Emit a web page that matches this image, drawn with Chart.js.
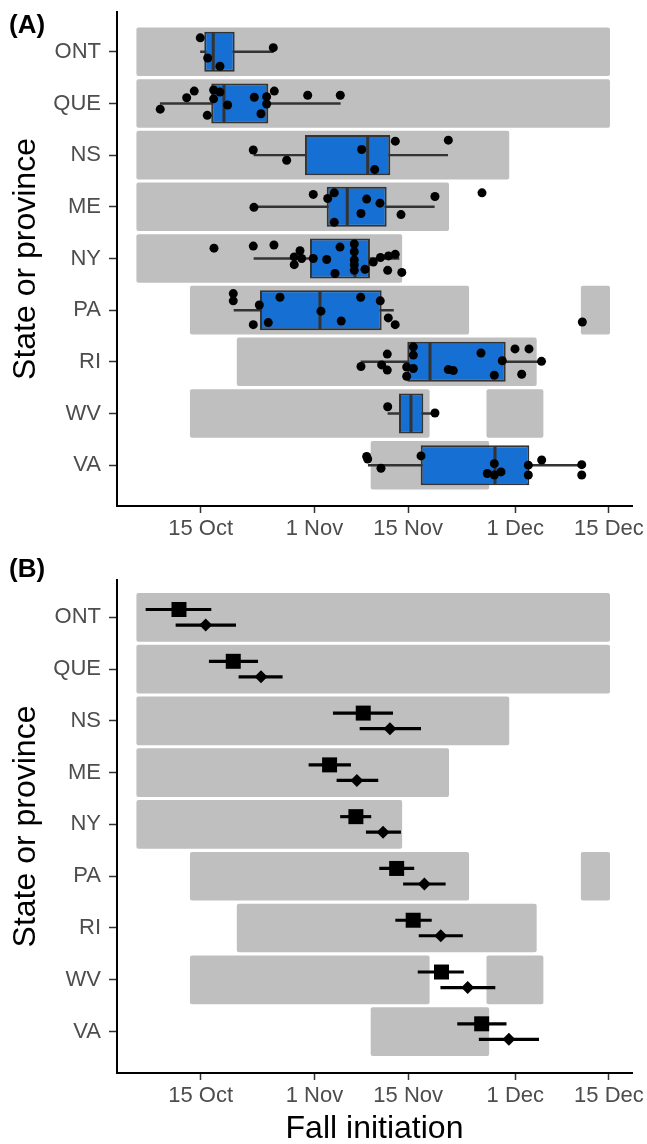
<!DOCTYPE html>
<html>
<head>
<meta charset="utf-8">
<script src="https://cdn.jsdelivr.net/npm/chart.js@4.4.0/dist/chart.umd.min.js"></script>
<style>
  html, body { margin: 0; padding: 0; background: #fff; }
  #wrap { position: relative; width: 647px; height: 1144px; overflow: hidden; }
  canvas { position: absolute; left: 0; }
  .tag { position: absolute; left: 9px; font: bold 26px "Liberation Sans", Arial, sans-serif; line-height: 26px; color: #000; }
</style>
</head>
<body>
<div id="wrap">
  <canvas id="chartA" width="647" height="560" style="top:0px"></canvas>
  <canvas id="chartB" width="647" height="584" style="top:560px"></canvas>
  <div class="tag" style="top:11px">(A)</div>
  <div class="tag" style="top:555px">(B)</div>
</div>
<script>
// dias contados desde el 1 de octubre
const provinces = ['ONT', 'QUE', 'NS', 'ME', 'NY', 'PA', 'RI', 'WV', 'VA'];
const tickDays = [14, 31, 45, 61, 75];
const tickLabels = ['15 Oct', '1 Nov', '15 Nov', '1 Dec', '15 Dec'];

// rangos grises (periodo observado)
const rangeStart = [4.4, 4.4, 4.4, 4.4, 4.4, 12.4, 19.4, 12.4, 39.4];
const rangeEnd = [75.15, 75.15, 60.1, 51.1, 44.1, 54.1, 64.2, 48.2, 57.1];
const extraStart = [null, null, null, null, null, 70.8, null, 56.7, null];
const extraEnd = [null, null, null, null, null, 75.15, null, 65.2, null];

// cajas (A)
const q1 = [14.54, 15.58, 29.58, 32.83, 30.33, 22.86, 44.87, 43.63, 46.87];
const median = [15.88, 17.48, 38.95, 35.9, 37.05, 31.82, 48.26, 45.42, 57.97];
const q3 = [19.08, 24.1, 42.33, 41.79, 39.29, 41.04, 59.57, 47.26, 63.1];
const whiskerLo = [13.97, 7.96, 21.96, 21.96, 21.96, 18.98, 37.95, 41.98, 39.04];
const whiskerHi = [24.85, 34.86, 50.9, 48.9, 43.63, 42.8, 64.84, 49.0, 71.02];

// puntos individuales (A)
const pointDays = [
  [13.94, 15.05, 16.88, 24.85],
  [7.96, 11.91, 13.04, 14.99, 15.94, 15.94, 16.88, 18.03, 22.01, 23.01, 23.86, 23.86, 25.0, 29.99, 34.86],
  [21.86, 26.85, 38.05, 40.0, 43.08, 51.0],
  [21.96, 30.82, 32.98, 33.96, 33.96, 37.95, 38.8, 40.79, 43.93, 49.0, 56.03],
  [15.99, 21.86, 24.95, 27.98, 27.98, 28.84, 29.09, 30.82, 32.83, 34.07, 34.82, 36.95, 36.95, 36.95, 36.95, 36.95, 38.55, 39.79, 40.86, 42.06, 43.07, 41.94, 44.05],
  [18.87, 18.87, 22.76, 25.85, 21.86, 24.1, 31.97, 35.0, 37.91, 40.83, 42.03, 43.06, 71.02],
  [37.95, 41.04, 41.88, 41.88, 44.78, 44.78, 45.77, 45.77, 45.77, 50.99, 51.74, 55.88, 57.87, 59.06, 60.96, 63.05, 61.96, 64.92],
  [41.94, 49.0],
  [38.8, 38.95, 40.94, 46.92, 57.87, 56.82, 57.87, 58.87, 62.95, 62.95, 64.95, 70.93, 70.93]
];
const pointJitter = [
  [-0.27, 0.12, 0.28, -0.08],
  [0.11, -0.11, -0.24, 0.23, -0.26, -0.09, -0.22, 0.03, -0.12, 0.2, -0.13, 0.01, -0.24, -0.16, -0.16],
  [-0.1, 0.1, -0.11, 0.28, -0.27, -0.29],
  [0.01, -0.24, -0.16, -0.27, 0.3, 0.13, -0.15, -0.07, 0.15, -0.2, -0.27],
  [-0.2, -0.24, -0.26, -0.03, 0.12, -0.15, 0, 0, 0.02, 0.29, -0.22, -0.28, -0.13, 0.03, 0.12, 0.23, 0.21, 0.07, -0.02, -0.05, -0.08, 0.23, 0.27],
  [-0.32, -0.18, -0.1, -0.25, 0.28, 0.24, 0.02, 0.21, -0.25, -0.18, 0.15, 0.28, 0.23],
  [0.09, 0.06, 0.16, -0.15, 0.1, 0.28, 0.13, -0.29, -0.13, 0.15, 0.17, -0.17, 0.26, -0.02, -0.25, -0.25, 0.24, -0.01],
  [-0.13, -0.01],
  [-0.17, -0.12, 0.06, -0.18, -0.03, 0.16, 0.19, 0.13, 0, 0.19, -0.1, -0.01, 0.19]
];

// estimaciones (B): cuadrados y rombos con intervalos
const fitSquare = [10.76, 18.87, 38.29, 33.26, 37.19, 43.28, 45.75, 49.98, 55.98];
const fitSquareLo = [5.83, 15.28, 33.81, 30.18, 34.89, 40.73, 43.13, 46.48, 52.38];
const fitSquareHi = [15.54, 22.52, 42.69, 36.4, 39.43, 45.85, 48.47, 53.27, 59.64];
const fitDiamond = [14.75, 23.01, 42.28, 37.34, 41.25, 47.42, 49.87, 53.89, 60.05];
const fitDiamondLo = [10.31, 19.72, 37.8, 34.36, 38.74, 44.29, 46.63, 49.87, 55.61];
const fitDiamondHi = [19.23, 26.19, 46.87, 40.48, 43.87, 50.55, 53.12, 57.97, 64.5];
const dodge = 0.15;

const FONT = "'Liberation Sans', Arial, sans-serif";
const xMin = 1.5, xMax = 78.44;

function grayData() {
  return provinces.map((p, i) => ({x: [rangeStart[i], rangeEnd[i]], y: i}));
}
function grayExtra() {
  return provinces.map((p, i) => extraStart[i] == null ? null : {x: [extraStart[i], extraEnd[i]], y: i})
    .filter(Boolean);
}

function makeScales(cfg) {
  const scales = {
    x: {
      type: 'linear', min: xMin, max: xMax, offset: false,
      afterBuildTicks: s => { s.ticks = tickDays.map(v => ({value: v})); },
      afterFit: s => { s.height = cfg.xHeight; s.paddingLeft = 0; s.paddingRight = 0; },
      ticks: {
        callback: v => tickLabels[tickDays.indexOf(v)],
        color: '#4d4d4d', font: {family: FONT, size: 22}, padding: 3,
        maxRotation: 0, autoSkip: false
      },
      grid: {offset: false, drawOnChartArea: false, tickLength: 7, tickColor: '#333', tickWidth: 1.5},
      border: {color: '#000', width: 2},
      title: {
        display: cfg.xTitle, text: 'Fall initiation', color: '#000',
        font: {family: FONT, size: 32, lineHeight: 0.9}, padding: {top: 0, bottom: 0}
      }
    },
    y: {
      type: 'linear', reverse: true, min: cfg.yMin, max: cfg.yMax, offset: false,
      afterBuildTicks: s => { s.ticks = provinces.map((p, i) => ({value: i})); },
      afterFit: s => { s.width = 117; s.paddingTop = 0; s.paddingBottom = 0; },
      ticks: {
        callback: v => provinces[v],
        color: '#4d4d4d', font: {family: FONT, size: 22}, padding: 8, autoSkip: false
      },
      grid: {offset: false, drawOnChartArea: false, tickLength: 8, tickColor: '#333', tickWidth: 1.5},
      border: {color: '#000', width: 2},
      title: {
        display: true, text: 'State or province', color: '#000',
        font: {family: FONT, size: 32}, padding: {top: 7, bottom: 0}
      }
    }
  };
  if (cfg.y2) {
    scales.y2 = {type: 'linear', display: false, reverse: true, min: cfg.yMin, max: cfg.yMax,
      offset: false, grid: {offset: false}};
  }
  return scales;
}

const barBase = {type: 'bar', indexAxis: 'y', grouped: false, categoryPercentage: 1, borderSkipped: false};

// ---- panel A ----
const jittered = [];
pointDays.forEach((days, i) => days.forEach((d, k) => jittered.push({x: d, y: i + pointJitter[i][k]})));

new Chart(document.getElementById('chartA'), {
  type: 'bar',
  data: {
    datasets: [
      Object.assign({}, barBase, {
        label: 'rango', order: 6, data: grayData(),
        backgroundColor: '#bfbfbf', barPercentage: 0.94, borderRadius: 2
      }),
      Object.assign({}, barBase, {
        label: 'rango2', order: 5, data: grayExtra(),
        backgroundColor: '#bfbfbf', barPercentage: 0.94, borderRadius: 2
      }),
      Object.assign({}, barBase, {
        label: 'bigotes', order: 4,
        data: provinces.map((p, i) => ({x: [whiskerLo[i], whiskerHi[i]], y: i})),
        backgroundColor: '#333333', barPercentage: 1, maxBarThickness: 1.8
      }),
      Object.assign({}, barBase, {
        label: 'cajas', order: 3,
        data: provinces.map((p, i) => ({x: [q1[i], q3[i]], y: i})),
        backgroundColor: '#166fd3', borderColor: '#333333', borderWidth: 2, barPercentage: 0.775
      }),
      {
        type: 'scatter', label: 'mediana', order: 2,
        data: provinces.map((p, i) => ({x: median[i], y: i})),
        pointStyle: 'line', pointRotation: 90, pointRadius: 19, pointHoverRadius: 19,
        pointBorderColor: '#333333', pointBorderWidth: 3
      },
      {
        type: 'scatter', label: 'puntos', order: 1, data: jittered,
        pointRadius: 4.5, pointHoverRadius: 4.5, pointBackgroundColor: '#000',
        pointBorderWidth: 0
      }
    ]
  },
  options: {
    indexAxis: 'y',
    responsive: false, animation: false,
    layout: {autoPadding: false, padding: {top: 12, right: 15, bottom: 0, left: 0}},
    plugins: {legend: {display: false}, tooltip: {enabled: false}},
    scales: makeScales({xHeight: 54, xTitle: false, yMin: -0.77, yMax: 8.79, y2: false})
  }
});

// ---- panel B ----
new Chart(document.getElementById('chartB'), {
  type: 'bar',
  data: {
    datasets: [
      Object.assign({}, barBase, {
        label: 'rango', order: 6, data: grayData(),
        backgroundColor: '#bfbfbf', barPercentage: 0.94, borderRadius: 2
      }),
      Object.assign({}, barBase, {
        label: 'rango2', order: 5, data: grayExtra(),
        backgroundColor: '#bfbfbf', barPercentage: 0.94, borderRadius: 2
      }),
      Object.assign({}, barBase, {
        label: 'ic1', order: 4, yAxisID: 'y2',
        data: provinces.map((p, i) => ({x: [fitSquareLo[i], fitSquareHi[i]], y: i - dodge})),
        backgroundColor: '#000', barPercentage: 1, maxBarThickness: 2.5
      }),
      Object.assign({}, barBase, {
        label: 'ic2', order: 3, yAxisID: 'y2',
        data: provinces.map((p, i) => ({x: [fitDiamondLo[i], fitDiamondHi[i]], y: i + dodge})),
        backgroundColor: '#000', barPercentage: 1, maxBarThickness: 2.5
      }),
      {
        type: 'scatter', label: 'cuadrados', order: 2,
        data: provinces.map((p, i) => ({x: fitSquare[i], y: i - dodge})),
        pointStyle: 'rect', pointRadius: 10.6, pointHoverRadius: 10.6,
        pointBackgroundColor: '#000', pointBorderWidth: 0
      },
      {
        type: 'scatter', label: 'rombos', order: 1,
        data: provinces.map((p, i) => ({x: fitDiamond[i], y: i + dodge})),
        pointStyle: 'rectRot', pointRadius: 6.5, pointHoverRadius: 6.5,
        pointBackgroundColor: '#000', pointBorderWidth: 0
      }
    ]
  },
  options: {
    indexAxis: 'y',
    responsive: false, animation: false,
    layout: {autoPadding: false, padding: {top: 20, right: 15, bottom: 0, left: 0}},
    plugins: {legend: {display: false}, tooltip: {enabled: false}},
    scales: makeScales({xHeight: 71, xTitle: true, yMin: -0.72, yMax: 8.8, y2: true})
  }
});
</script>
</body>
</html>
